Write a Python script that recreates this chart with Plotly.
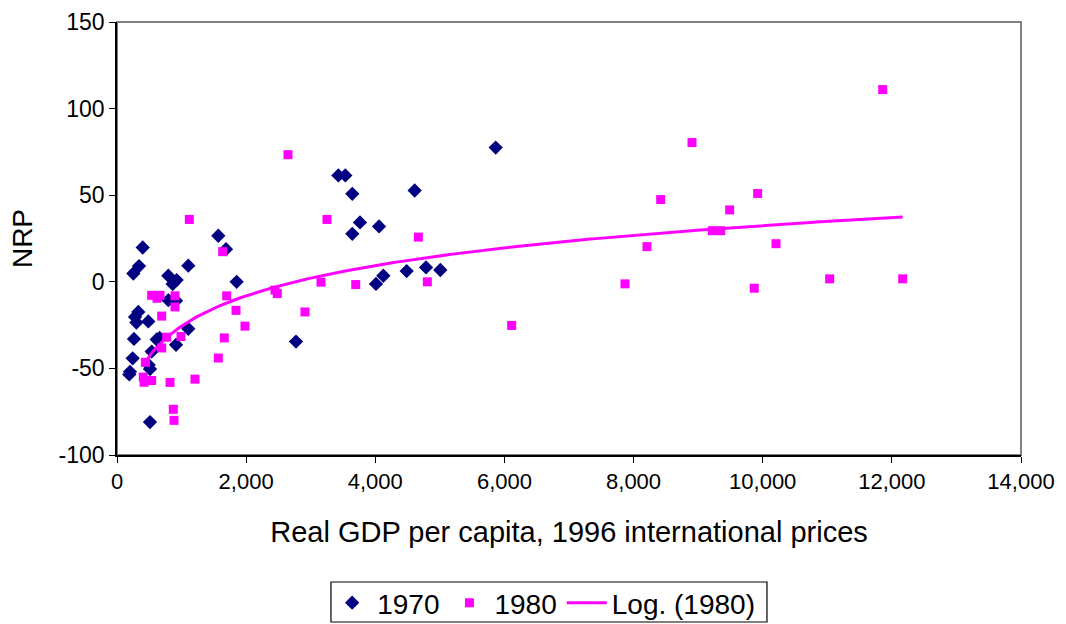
import numpy as np
import plotly.graph_objects as go

# NRP vs real GDP per capita (1996 international prices)
gdp_1970 = [398, 341, 253, 1569, 1688, 1104, 1853, 795, 924, 862, 795, 914,
            330, 279, 300, 485, 263, 615, 660, 914, 1104, 537, 243, 201, 190,
            511, 490, 511, 2772, 3428, 3536, 3644, 4610, 5865, 3763, 3644,
            4058, 4125, 4011, 4486, 4786, 5007]
nrp_1970 = [19.8, 9.1, 4.8, 26.6, 18.8, 9.3, 0.0, 3.5, 1.0, -1.3, -10.6, -11.0,
            -17.4, -20.3, -23.5, -22.9, -33.0, -33.3, -32.4, -36.4, -27.1, -40.3,
            -44.2, -52.0, -53.5, -50.4, -48.0, -81.0, -34.5, 61.4, 61.4, 50.8,
            52.7, 77.5, 34.3, 27.7, 32.0, 3.5, -1.2, 6.2, 8.3, 6.8]

gdp_1980 = [1120, 1637, 537, 620, 666, 898, 898, 692, 1699, 1843, 1982, 2911,
            2447, 2483, 769, 991, 1662, 692, 1569, 440, 407, 420, 537, 821,
            1208, 872, 883, 2648, 3252, 4667, 3159, 3697, 4806, 6112, 11858,
            8905, 9922, 8420, 9488, 9220, 9349, 10206, 8208, 7867, 9869,
            11037, 12168]
nrp_1980 = [36.0, 17.4, -7.8, -9.5, -7.8, -8.1, -14.5, -19.8, -8.1, -16.5, -25.6,
            -17.4, -4.8, -6.8, -32.0, -31.6, -32.4, -38.2, -44.0, -46.5, -55.0,
            -58.0, -57.0, -58.1, -56.2, -73.6, -80.0, 73.4, 36.0, 25.8, -0.2,
            -1.6, 0.0, -25.2, 111.0, 80.4, 51.0, 47.5, 41.5, 29.5, 29.5, 22.0,
            20.3, -1.2, -3.7, 1.7, 1.7]

x_ticks = [0, 2000, 4000, 6000, 8000, 10000, 12000, 14000]
y_ticks = [-100, -50, 0, 50, 100, 150]
y_tick_text = ["-100", "-50", "0", "50", "100", "150"]

# Logarithmic trend line fitted to the 1980 observations
x80 = np.array(gdp_1980, dtype=float)
y80 = np.array(nrp_1980, dtype=float)
slope, intercept = np.polyfit(np.log(x80), y80, 1)
trend_x = np.linspace(x80.min(), x80.max(), 300)
trend_y = slope * np.log(trend_x) + intercept

FONT = "Liberation Sans, Arial, sans-serif"

fig = go.Figure()
fig.add_trace(go.Scatter(
    x=gdp_1970, y=nrp_1970, mode="markers", name="1970",
    marker=dict(symbol="diamond", size=11, color="#000080",
                line=dict(width=0)),
))
fig.add_trace(go.Scatter(
    x=gdp_1980, y=nrp_1980, mode="markers", name="1980",
    marker=dict(symbol="square", size=9, color="#FF00FF",
                line=dict(width=0)),
))
fig.add_trace(go.Scatter(
    x=trend_x, y=trend_y, mode="lines", name="Log. (1980)",
    line=dict(color="#FF00FF", width=3),
))

# gray plot-area frame
fig.add_shape(type="rect", xref="paper", yref="paper", x0=0, y0=0, x1=1, y1=1,
              line=dict(color="#808080", width=2), layer="below")
# legend box, drawn below the axis title
fig.add_shape(type="rect", xref="paper", yref="paper",
              x0=0.2367, x1=0.719, y0=-0.3857, y1=-0.2933,
              line=dict(color="black", width=1.2), fillcolor="white",
              layer="above")

fig.update_layout(
    width=1066, height=624,
    margin=dict(l=117, r=45, t=22, b=169, autoexpand=False),
    paper_bgcolor="white", plot_bgcolor="white",
    font=dict(family=FONT, size=23, color="black"),
    showlegend=True,
    legend=dict(
        orientation="h", xref="container", yref="container",
        x=0.51, xanchor="center", y=0.0337, yanchor="middle",
        borderwidth=0, bgcolor="rgba(0,0,0,0)",
        font=dict(size=28, family=FONT, color="black"),
        itemsizing="trace", itemwidth=40, tracegroupgap=0,
    ),
    xaxis=dict(
        range=[0, 14000], tickvals=x_ticks, tickformat=",",
        showgrid=False, zeroline=False, automargin=False,
        showline=True, linecolor="black", linewidth=1.5,
        ticks="outside", ticklen=6, tickcolor="black", tickwidth=1,
        tickfont=dict(size=22),
        title=dict(text="Real GDP per capita, 1996 international prices",
                   font=dict(size=29), standoff=29),
    ),
    yaxis=dict(
        range=[-100, 150], tickvals=y_ticks, ticktext=y_tick_text,
        showgrid=False, zeroline=False, automargin=False,
        showline=True, linecolor="black", linewidth=1.5,
        ticks="outside", ticklen=6, tickcolor="black", tickwidth=1,
        tickfont=dict(size=23),
        title=dict(text="NRP", font=dict(size=28), standoff=18),
    ),
)

fig.write_html("out.html")
